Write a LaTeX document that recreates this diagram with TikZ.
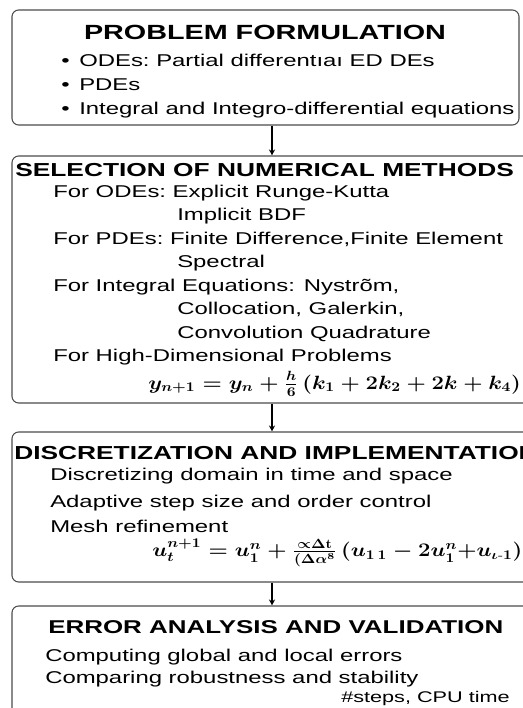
\documentclass[tikz,border=0pt]{standalone}
\usepackage{fontspec}
\usepackage{amsmath}
\usepackage{graphicx}
\newfontfamily\diagfont[FakeStretch=1.4]{Liberation Sans}
\usetikzlibrary{positioning, arrows.meta}

\newcommand{\wide}[1]{\scalebox{1.15}[1]{#1}}
\newcommand{\bul}{\makebox[13.5pt][l]{\textbullet}}

\begin{document}
\begin{tikzpicture}[
    x=0.75pt, y=-0.75pt,
    >={Stealth[length=4.5pt, width=4.5pt]},
    box/.style={draw=black!70, line width=0.8pt, rounded corners=5pt, inner sep=0pt},
    head/.style={font=\diagfont\bfseries\fontsize{14.1}{17}\selectfont, inner sep=0pt, anchor=base west},
    txt/.style={font=\diagfont\fontsize{12.8}{15}\selectfont, inner sep=0pt, anchor=base west},
    eq/.style={font=\mathversion{bold}\fontsize{14}{16}\selectfont, inner sep=0pt, anchor=west}
]

% ================= Frame =================
\clip (0,0) rectangle (523,708);
\fill[white] (0,0) rectangle (523,708);

% ================= Boxes =================
\node[box, minimum width=380.25pt, minimum height=86.25pt] (pf) at (265.5, 67.5) {};
\node[box, minimum width=392.25pt, minimum height=185.25pt] (sel) at (273.5, 279.5) {};
\node[box, minimum width=392.25pt, minimum height=112.5pt] (disc) at (273.5, 507) {};
\node[box, minimum width=392.25pt, minimum height=89.25pt] (err) at (273.5, 665.5) {};

% ================= Problem formulation =================
\node[head, anchor=base, font=\diagfont\bfseries\fontsize{15.4}{18}\selectfont] (pf_title) at (265, 39) {PROBLEM FORMULATION};
\node[txt] (pf_ode) at (61, 66) {\bul ODEs:\ Partial differentıaı ED DEs};
\node[txt] (pf_pde) at (61, 90) {\bul PDEs};
\node[txt] (pf_int) at (61, 114) {\bul Integral and Integro-differential equations};

% ================= Numerical methods =================
\node[head] (sel_title) at (15, 176) {SELECTION OF NUMERICAL METHODS};
\node[txt] (sel_ode) at (53, 197) {For ODEs:\ Explicit Runge-Kutta};
\node[txt] (sel_bdf) at (177, 220.5) {Implicit BDF};
\node[txt] (sel_pde) at (53, 244) {For PDEs:\ Finite Difference,Finite Element};
\node[txt] (sel_spec) at (177, 267.5) {Spectral};
\node[txt] (sel_int) at (53, 291) {For Integral Equations: Nystrõm,};
\node[txt] (sel_coll) at (177, 314.5) {Collocation, Galerkin,};
\node[txt] (sel_conv) at (177, 338) {Convolution Quadrature};
\node[txt] (sel_high) at (53, 361.5) {For High-Dimensional Problems};
\node[eq] (sel_eq) at (148, 384) {\wide{$y_{n+1} = y_n + \frac{h}{6}\,(k_1 + 2k_2 + 2k + k_4)$}};

% ================= Discretization =================
\node[head] (disc_title) at (14, 459) {DISCRETIZATION AND IMPLEMENTATION};
\node[txt] (disc_dom) at (50, 480) {Discretizing domain in time and space};
\node[txt] (disc_step) at (50, 507) {Adaptive step size and order control};
\node[txt] (disc_mesh) at (50, 532) {Mesh refinement};
\node[eq] (disc_eq) at (152, 553) {\wide{$u_t^{n+1} = u_1^n + \frac{\propto \Delta \mathrm{t}}{(\Delta \alpha^8}\,(u_{1\,1} - 2u_1^n {+} u_{\iota\text{-}1})$}};

% ================= Error analysis =================
\node[head, font=\diagfont\bfseries\fontsize{13.9}{17}\selectfont] (err_title) at (48, 633) {ERROR ANALYSIS AND VALIDATION};
\node[txt] (err_glob) at (45, 661) {Computing global and local errors};
\node[txt] (err_rob) at (45, 683) {Comparing robustness and stability};
\node[txt, font=\diagfont\fontsize{11.6}{14}\selectfont] (err_cpu) at (341, 702) {\#steps, CPU time};

% ================= Edges =================
\coordinate (mid) at (272, 0);
\draw[->, line width=0.8pt] (pf.south -| mid) -- (sel.north -| mid);
\draw[->, line width=0.8pt] (sel.south -| mid) -- (disc.north -| mid);
\draw[->, line width=0.8pt] (disc.south -| mid) -- (err.north -| mid);

\end{tikzpicture}
\end{document}
